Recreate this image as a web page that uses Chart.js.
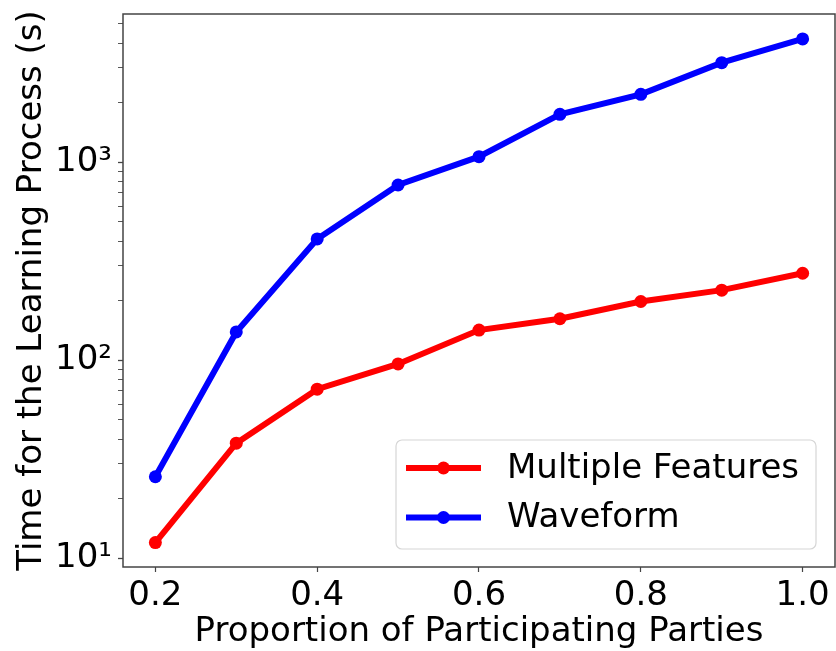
<!DOCTYPE html>
<html>
<head>
<meta charset="utf-8">
<script src="https://cdn.jsdelivr.net/npm/chart.js@4"></script>
<style>
  html, body { margin: 0; padding: 0; background: #fff; }
  #wrap { width: 836px; height: 651px; }
</style>
</head>
<body>
<div id="wrap"><canvas id="chart" width="836" height="651"></canvas></div>
<script>
// ── Data ────────────────────────────────────────────────────────
const proportions = [0.2, 0.3, 0.4, 0.5, 0.6, 0.7, 0.8, 0.9, 1.0];
const multipleFeatures = [12.0, 38.1, 71.4, 95.8, 142, 162, 198, 226, 275];
const waveform = [25.8, 139, 410, 768, 1067, 1747, 2205, 3184, 4197];

const seriesNames = ["Multiple Features", "Waveform"];
const seriesColors = ["#ff0000", "#0000ff"];

const xTickValues = [0.2, 0.4, 0.6, 0.8, 1.0];
const xTickLabels = ["0.2", "0.4", "0.6", "0.8", "1.0"];
const yMajorValues = [10, 100, 1000];
const yMajorLabels = ["10¹", "10²", "10³"];
const yMinorValues = [20, 30, 40, 50, 60, 70, 80, 90,
                      200, 300, 400, 500, 600, 700, 800, 900,
                      2000, 3000, 4000, 5000];

const xTitle = "Proportion of Participating Parties";
const yTitle = "Time for the Learning Process (s)";

const FONT = "DejaVu Sans";
const SPINE = "#444";

// ── Helpers ─────────────────────────────────────────────────────
const toPoints = (ys) => proportions.map((x, i) => ({ x, y: ys[i] }));

const frameAndLegend = {
  id: "frameAndLegend",
  afterDatasetsDraw(chart) {
    const { ctx, chartArea: a } = chart;
    ctx.save();
    // axes frame (all four spines)
    ctx.strokeStyle = SPINE;
    ctx.lineWidth = 1.5;
    ctx.strokeRect(a.left, a.top, a.right - a.left, a.bottom - a.top);

    // legend box
    const bx = 396, by = 440, bw = 420, bh = 109, r = 6;
    ctx.beginPath();
    ctx.roundRect(bx, by, bw, bh, r);
    ctx.fillStyle = "rgba(255,255,255,0.8)";
    ctx.fill();
    ctx.strokeStyle = "#d6d6d6";
    ctx.lineWidth = 1.2;
    ctx.stroke();

    ctx.font = `34px "${FONT}"`;
    ctx.textBaseline = "middle";
    chart.data.datasets.forEach((ds, i) => {
      const y = 468 + i * 49.5;
      ctx.strokeStyle = ds.borderColor;
      ctx.lineWidth = 6;
      ctx.beginPath();
      ctx.moveTo(406, y);
      ctx.lineTo(481, y);
      ctx.stroke();
      ctx.fillStyle = ds.borderColor;
      ctx.beginPath();
      ctx.arc(443.5, y, 6.5, 0, Math.PI * 2);
      ctx.fill();
      ctx.fillStyle = "#000";
      ctx.fillText(ds.label, 507, y + 1);
    });
    ctx.restore();
  },
};

// ── Chart ───────────────────────────────────────────────────────
new Chart(document.getElementById("chart"), {
  type: "line",
  data: {
    datasets: [multipleFeatures, waveform].map((ys, i) => ({
      label: seriesNames[i],
      data: toPoints(ys),
      borderColor: seriesColors[i],
      backgroundColor: seriesColors[i],
      borderWidth: 6,
      pointRadius: 6.5,
      pointBorderWidth: 0,
      pointBackgroundColor: seriesColors[i],
      tension: 0,
      fill: false,
    })),
  },
  options: {
    responsive: false,
    animation: false,
    devicePixelRatio: 1,
    layout: { autoPadding: false, padding: { left: 0, top: 14, right: 1, bottom: 0 } },
    plugins: {
      legend: { display: false },
      tooltip: { enabled: false },
    },
    scales: {
      x: {
        type: "linear",
        min: 0.16,
        max: 1.04,
        afterFit: (s) => {
          s.height = 84;
          s.paddingLeft = 0;
          s.paddingRight = 0;
        },
        afterBuildTicks: (s) => { s.ticks = xTickValues.map(v => ({ value: v })); },
        grid: {
          display: true,
          drawOnChartArea: false,
          drawTicks: true,
          tickLength: 5,
          tickColor: SPINE,
          tickWidth: 1.2,
        },
        border: { display: false },
        ticks: {
          color: "#000",
          padding: 4,
          maxRotation: 0,
          font: { family: FONT, size: 34 },
          callback: (v) => xTickLabels[xTickValues.indexOf(v)] ?? "",
        },
        title: {
          display: true,
          text: xTitle,
          color: "#000",
          font: { family: FONT, size: 34, lineHeight: 1.0 },
          padding: { top: 0, bottom: 2 },
        },
      },
      y: {
        type: "logarithmic",
        min: 9.03,
        max: 5610,
        afterFit: (s) => {
          s.width = 123;
          s.paddingTop = 0;
          s.paddingBottom = 0;
        },
        afterBuildTicks: (s) => {
          s.ticks = [...yMajorValues, ...yMinorValues]
            .sort((a, b) => a - b)
            .map(v => ({ value: v, major: yMajorValues.includes(v) }));
        },
        grid: {
          display: true,
          drawOnChartArea: false,
          drawTicks: true,
          tickLength: 5,
          tickColor: SPINE,
          tickWidth: (c) => (c.tick && yMajorValues.includes(c.tick.value) ? 1.3 : 0.9),
        },
        border: { display: false },
        ticks: {
          color: "#000",
          padding: 6,
          autoSkip: false,
          font: { family: FONT, size: 34 },
          callback: (v) => {
            const i = yMajorValues.indexOf(v);
            return i >= 0 ? yMajorLabels[i] : "";
          },
        },
        title: {
          display: true,
          text: yTitle,
          color: "#000",
          font: { family: FONT, size: 34, lineHeight: 1.0 },
          padding: { top: 15, bottom: 0 },
        },
      },
    },
  },
  plugins: [frameAndLegend],
});
</script>
</body>
</html>
